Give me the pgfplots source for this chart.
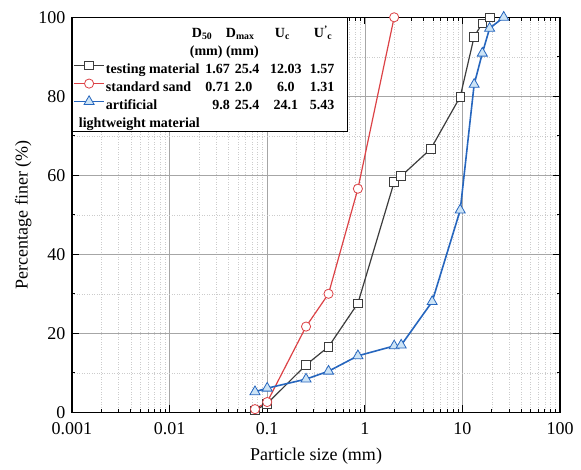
\documentclass[border=0pt]{standalone}
\usepackage{fontspec}
\setmainfont{Liberation Serif}
\usepackage{pgfplots}
\pgfplotsset{compat=1.18}
\definecolor{cred}{RGB}{220,66,70}
\definecolor{cblue}{RGB}{38,102,190}
\definecolor{cblf}{RGB}{205,228,246}
\definecolor{cgray}{RGB}{60,60,60}
\newcommand\atl[2]{\makebox[0pt][l]{\hspace*{#1}#2}}
\newcommand\atr[2]{\makebox[0pt][l]{\hspace*{#1}\llap{#2}}}
\newcommand\atc[2]{\makebox[0pt][l]{\hspace*{#1}\makebox[0pt][c]{#2}}}
\newcommand\lrow[5]{\makebox[239pt][l]{\atl{0pt}{#1}\atr{124pt}{#2}\atl{129pt}{#3}\atc{180pt}{#4}\atl{204pt}{#5}}}
\begin{document}
\begin{tikzpicture}
\begin{axis}[
 at={(0,0)}, anchor=south west,
 scale only axis, width=488pt, height=395pt,
 xmode=log, xmin=0.001, xmax=100, ymin=0, ymax=100,
 xtick={0.001,0.01,0.1,1,10,100},
 xticklabels={0.001,0.01,0.1,1,10,100},
 minor xtick={0.002,0.003,0.004,0.005,0.006,0.007,0.008,0.009,0.02,0.03,0.04,0.05,0.06,0.07,0.08,0.09,0.2,0.3,0.4,0.5,0.6,0.7,0.8,0.9,2,3,4,5,6,7,8,9,20,30,40,50,60,70,80,90},
 ytick={0,20,40,60,80,100}, minor ytick={10,30,50,70,90},
 tick align=inside, major tick length=7pt, minor tick length=3.5pt,
 tick style={black, line width=0.8pt},
 grid=both,
 major grid style={draw=gray!70, line width=0.5pt, solid},
 minor grid style={draw=gray!40, line width=0.5pt, dotted},
 axis line style={line width=1.1pt},
 ticklabel style={font=\fontsize{18}{20}\selectfont},
 /pgf/number format/assume math mode=true,
 xticklabel style={yshift=-7pt},
 yticklabel style={xshift=-3pt},
 label style={font=\fontsize{18}{20}\selectfont},
 xlabel={Particle size (mm)}, ylabel={Percentage finer (\%)},
 xlabel style={yshift=-6pt},
 legend cell align=left,
 legend style={at={(0,1)}, anchor=north west, draw=black, line width=0.6pt, inner xsep=1pt, inner ysep=3pt, font=\fontsize{14}{16}\selectfont\bfseries, row sep=0pt, nodes={inner xsep=1pt, inner ysep=0pt, text height=17pt, text depth=1pt}},
 legend image code/.code={\draw[mark repeat=2, mark phase=2] plot coordinates {(0pt,0pt) (15pt,0pt) (30pt,0pt)};},
]
\addlegendimage{empty legend}
\addlegendentry{\makebox[239pt][l]{\atl{86pt}{D\textsubscript{50}}\atl{120pt}{D\textsubscript{max}}\atl{169pt}{U\textsubscript{c}}\atl{208pt}{U\textsuperscript{'}\kern-0.5pt\textsubscript{c}}}}
\addlegendimage{empty legend}
\addlegendentry{\makebox[239pt][l]{\atl{84pt}{(mm) (mm)}}}
\addplot[cgray, line width=1.2pt, mark=square*, mark size=4.3pt, mark options={fill=white, draw=cgray, line width=0.8pt}] coordinates {
(0.075,0.5) (0.1,2.2) (0.25,12.0) (0.425,16.6) (0.85,27.6) (2,58.3) (2.36,59.8) (4.75,66.7) (9.5,79.9) (13.2,95.1) (16,98.5) (19.2,100)};
\addlegendentry{\lrow{testing material}{1.67}{25.4}{12.03}{1.57}}
\addplot[cred, line width=1.2pt, mark=*, mark size=4.6pt, mark options={fill=white, draw=cred, line width=0.8pt}] coordinates {
(0.075,0.8) (0.1,2.6) (0.25,21.7) (0.425,30.0) (0.85,56.6) (2,100)};
\addlegendentry{\lrow{standard sand}{0.71}{2.0}{6.0}{1.31}}
\addplot[cblue, line width=1.6pt, mark=triangle*, mark size=5.8pt, mark options={fill=cblf, draw=cblue, line width=0.8pt}] coordinates {
(0.075,5.2) (0.1,6.1) (0.25,8.4) (0.425,10.4) (0.85,14.3) (2,16.8) (2.36,17.0) (4.9,28.0) (9.5,51.2) (13.2,83.0) (16,90.9) (19,97.2) (26.5,100)};
\addlegendentry{\lrow{artificial}{9.8}{25.4}{24.1}{5.43}}
\addlegendimage{empty legend}
\addlegendentry{\makebox[239pt][l]{\atl{-27pt}{lightweight material}}}
\end{axis}
\pgfresetboundingbox
\path (-72pt,-57.7pt) rectangle (509pt,412.3pt);
\end{tikzpicture}
\end{document}
